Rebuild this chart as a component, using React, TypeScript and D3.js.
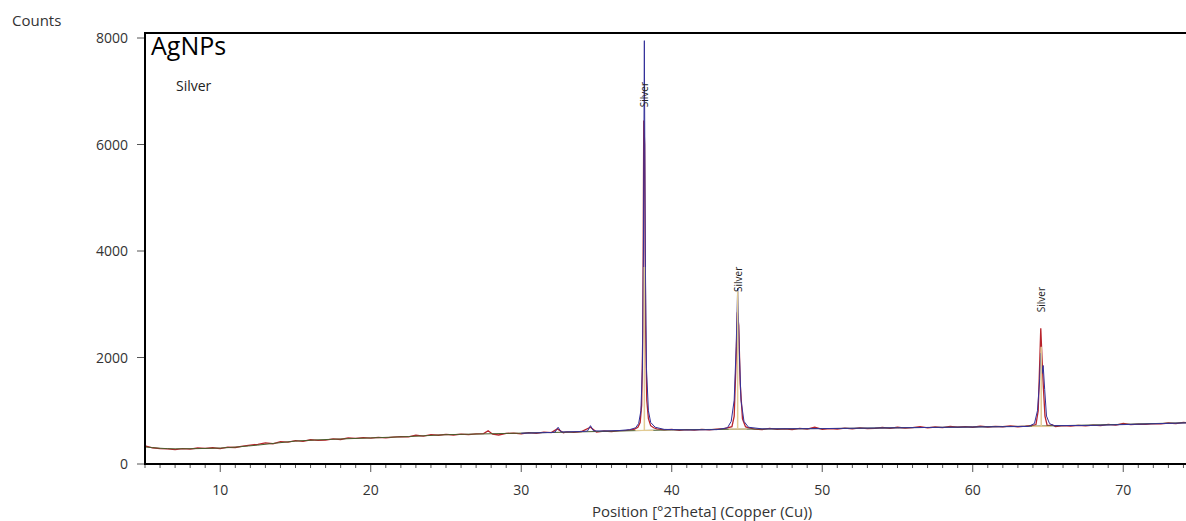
import * as d3 from "d3";

// XRD scan of silver nanoparticles, counts vs 2theta
const title = "AgNPs";
const phaseName = "Silver";

// observed scan (2theta, counts)
const observed: [number, number][] = [
  [5.0, 340], [5.5, 305], [6.0, 290], [6.5, 285], [7.0, 270], [7.5, 290], [8.0, 280], [8.5, 300],
  [9.0, 295], [9.5, 305], [10.0, 290], [10.5, 315], [11.0, 310], [11.5, 335], [12.0, 355], [12.5, 370],
  [13.0, 395], [13.5, 380], [14.0, 420], [14.5, 410], [15.0, 440], [15.5, 425], [16.0, 455], [16.5, 445],
  [17.0, 450], [17.5, 470], [18.0, 460], [18.5, 490], [19.0, 480], [19.5, 495], [20.0, 485], [20.5, 500],
  [21.0, 490], [21.5, 505], [22.0, 515], [22.5, 510], [23.0, 540], [23.5, 525], [24.0, 550], [24.5, 540],
  [25.0, 555], [25.5, 545], [26.0, 560], [26.5, 550], [27.0, 565], [27.5, 570], [27.8, 625], [28.1, 560],
  [28.5, 545], [29.0, 575], [29.5, 580], [30.0, 565], [30.5, 590], [31.0, 575], [31.5, 600], [32.0, 590],
  [32.4, 660], [32.8, 585], [33.0, 605], [33.5, 595], [34.0, 610], [34.6, 690], [35.0, 600], [35.5, 620],
  [36.0, 610], [36.5, 625], [37.0, 630], [37.5, 650], [37.75, 690], [37.9, 780], [38.0, 1100], [38.08, 2500],
  [38.14, 6450], [38.2, 6000], [38.26, 2600], [38.34, 1200], [38.45, 850], [38.6, 720], [38.8, 680], [39.0, 660],
  [39.5, 640], [40.0, 650], [40.5, 630], [41.0, 645], [41.5, 635], [42.0, 650], [42.5, 640], [43.0, 655],
  [43.5, 665], [44.0, 700], [44.15, 900], [44.27, 1900], [44.36, 2850], [44.45, 2600], [44.55, 1500], [44.7, 850],
  [44.9, 700], [45.0, 690], [45.5, 655], [46.0, 645], [46.5, 670], [47.0, 650], [47.5, 660], [48.0, 645],
  [48.5, 670], [49.0, 655], [49.5, 690], [50.0, 650], [50.5, 665], [51.0, 655], [51.5, 675], [52.0, 660],
  [52.5, 680], [53.0, 665], [53.5, 670], [54.0, 685], [54.5, 670], [55.0, 690], [55.5, 675], [56.0, 685],
  [56.5, 700], [57.0, 680], [57.5, 695], [58.0, 685], [58.5, 705], [59.0, 690], [59.5, 700], [60.0, 690],
  [60.5, 710], [61.0, 695], [61.5, 705], [62.0, 700], [62.5, 715], [63.0, 700], [63.5, 710], [64.0, 725],
  [64.2, 740], [64.35, 1000], [64.45, 1900], [64.52, 2550], [64.6, 2000], [64.7, 1400], [64.8, 900], [64.95, 720],
  [65.3, 735], [65.5, 705], [66.0, 720], [66.5, 710], [67.0, 725], [67.5, 715], [68.0, 730], [68.5, 720],
  [69.0, 745], [69.5, 730], [70.0, 760], [70.5, 740], [71.0, 750], [71.5, 745], [72.0, 760], [72.5, 755],
  [73.0, 770], [73.5, 760], [74.0, 780], [74.2, 775],
];

// background line
const bgTheta = [5, 7, 10, 12.5, 15, 17.5, 20, 22.5, 25, 27.5, 30, 35, 40, 45, 50, 55, 60, 65, 70, 74.2];
const bgCounts = [320, 285, 300, 355, 430, 465, 490, 515, 550, 565, 580, 610, 640, 655, 665, 680, 695, 715, 745, 775];

// fitted profile
const fitted: [number, number][] = [
  [30, 578], [32.0, 592], [32.25, 600], [32.45, 690], [32.65, 602], [33, 603], [34, 610], [34.4, 618],
  [34.6, 720], [34.8, 622], [35.5, 620], [36.5, 628], [37.2, 645], [37.6, 680], [37.8, 760], [37.95, 1000],
  [38.05, 1800], [38.12, 4000], [38.18, 7950], [38.24, 4000], [38.32, 1800], [38.45, 1000], [38.6, 780],
  [38.9, 690], [39.5, 650], [41, 640], [43, 645], [43.7, 680], [43.95, 800], [44.15, 1200], [44.28, 2200],
  [44.38, 3300], [44.48, 2200], [44.6, 1200], [44.8, 800], [45.1, 690], [46, 660], [50, 665], [55, 680],
  [60, 695], [63.7, 705], [64.1, 760], [64.3, 1000], [64.45, 1600], [64.52, 2080], [64.6, 1700],
  [64.68, 1850], [64.78, 1400], [64.9, 900], [65.1, 760], [65.4, 720], [68, 725], [74.2, 772],
];

// reference peaks for silver
const peakTheta = [38.18, 44.38, 64.55];
const stickTop = [3700, 3250, 2200];
const stickBase = [630, 655, 705];
const labelCounts = [6700, 3230, 2850];

const yTicks = [0, 2000, 4000, 6000, 8000];
const xTicks = [10, 20, 30, 40, 50, 60, 70];

const W = 1186;
const H = 521;
const left = 145;
const top = 33;
const bottom = 464;
const font = "'Segoe UI', 'Open Sans', sans-serif";

export default function App() {
  const x = d3.scaleLinear().domain([5, 74.17]).range([left, W]);
  const y = d3.scaleLinear().domain([0, 8000]).range([bottom, 38]);

  const line = d3.line<[number, number]>().x((d) => x(d[0])).y((d) => y(d[1]));
  const smooth = d3.line<[number, number]>().x((d) => x(d[0])).y((d) => y(d[1])).curve(d3.curveMonotoneX);
  const bg = bgTheta.map((t, i) => [t, bgCounts[i]] as [number, number]);

  const minor = d3.range(5, 75, 1).filter((t) => t % 10 !== 0);

  return (
    <svg width={W} height={H} style={{ position: "absolute", left: 0, top: 0, background: "#fff" }}>
      <text x={12} y={26} fontFamily={font} fontSize={15} fill="#333">Counts</text>

      {/* y axis */}
      {yTicks.map((t) => (
        <g key={t}>
          <line x1={left - 8} x2={left} y1={y(t)} y2={y(t)} stroke="#555" />
          <text x={left - 17} y={y(t) + 5} textAnchor="end" fontFamily={font} fontSize={14} fill="#333">{t}</text>
        </g>
      ))}

      {/* x axis */}
      {minor.map((t) => (
        <line key={t} x1={x(t)} x2={x(t)} y1={bottom} y2={bottom + 4} stroke="#555" />
      ))}
      {xTicks.map((t) => (
        <g key={t}>
          <line x1={x(t)} x2={x(t)} y1={bottom} y2={bottom + 8} stroke="#555" />
          <text x={x(t)} y={495} textAnchor="middle" fontFamily={font} fontSize={14} fill="#333">{t}</text>
        </g>
      ))}
      <text x={702} y={517} textAnchor="middle" fontFamily={font} fontSize={15} fill="#333">
        Position [°2Theta] (Copper (Cu))
      </text>

      {/* data */}
      <clipPath id="plot">
        <rect x={left} y={top} width={W - left} height={bottom - top} />
      </clipPath>
      <g clipPath="url(#plot)">
        <path d={line(observed) ?? ""} fill="none" stroke="#b8242c" strokeWidth={1.3} />
        <path d={smooth(bg) ?? ""} fill="none" stroke="#4a5d2c" strokeWidth={1} />
        <path d={line(fitted) ?? ""} fill="none" stroke="#33309a" strokeWidth={1} />
        {peakTheta.map((t, i) => (
          <g key={t}>
            <line x1={x(t - 0.6)} x2={x(t + 0.6)} y1={y(stickBase[i])} y2={y(stickBase[i])} stroke="#e2cb94" strokeWidth={1.2} />
            <line x1={x(t)} x2={x(t)} y1={y(stickBase[i])} y2={y(stickTop[i])} stroke="#e2cb94" strokeWidth={1.5} />
          </g>
        ))}
      </g>

      {peakTheta.map((t, i) => (
        <text
          key={t}
          transform={`translate(${x(t) + 4},${y(labelCounts[i])}) rotate(-90)`}
          fontFamily={font}
          fontSize={10}
          fill="#222"
        >
          {phaseName}
        </text>
      ))}

      {/* frame */}
      <line x1={left} x2={left} y1={top} y2={bottom + 1} stroke="#000" strokeWidth={2} />
      <line x1={left - 1} x2={W} y1={top} y2={top} stroke="#000" strokeWidth={2} />
      <line x1={left - 1} x2={W} y1={bottom} y2={bottom} stroke="#000" strokeWidth={2} />

      <text x={151} y={55} fontFamily={font} fontSize={25} fill="#000">{title}</text>
      <text x={176} y={91} fontFamily={font} fontSize={14} fill="#222">{phaseName}</text>
    </svg>
  );
}
